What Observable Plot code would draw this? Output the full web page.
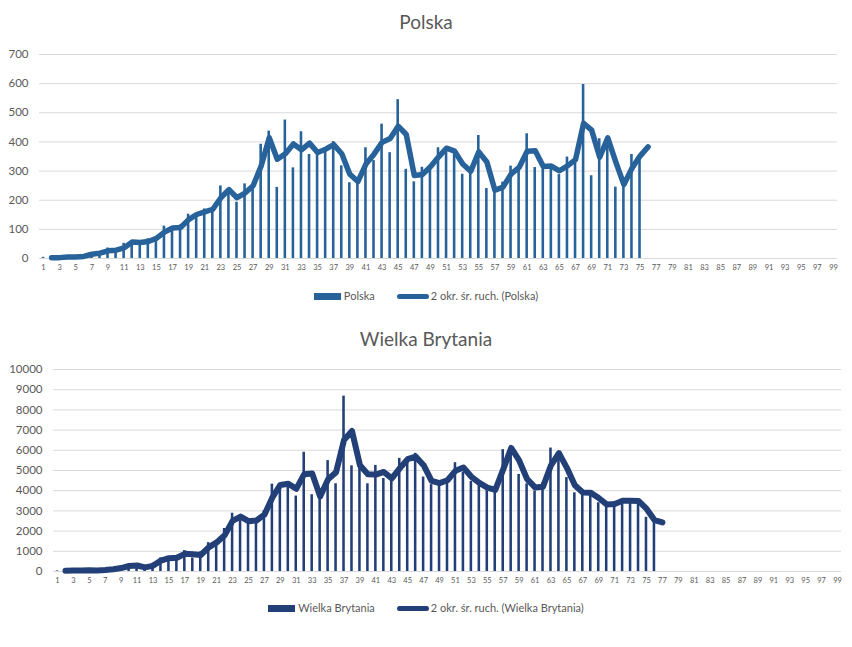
<!DOCTYPE html>
<html>
<head>
<meta charset="utf-8">
<script src="https://cdn.jsdelivr.net/npm/d3@7"></script>
<script src="https://cdn.jsdelivr.net/npm/@observablehq/plot@0.6"></script>
<style>
  body { margin: 0; background: #fff; font-family: Lato, "Open Sans", sans-serif; color: #595959; }
  #page { position: relative; width: 852px; height: 647px; overflow: hidden; }
  .title { position: absolute; left: 0; width: 852px; text-align: center; font-size: 19px; line-height: 23px; }
  .chart { position: absolute; left: 0; }
  .legend { position: absolute; left: 0; width: 852px; display: flex; justify-content: center; align-items: center; font-size: 11px; line-height: 14px; }
  .item { display: flex; align-items: center; margin: 0 11px; }
  .sw-bar { display: inline-block; width: 27px; height: 7px; margin-right: 3px; }
  .sw-line { display: inline-block; width: 32px; height: 5px; border-radius: 3px; margin-right: 2px; }
</style>
</head>
<body>
<div id="page">
  <div class="title" style="top:10px">Polska</div>
  <div class="chart" id="pl-chart" style="top:40px"></div>
  <div class="legend" id="pl-legend" style="top:289px"></div>
  <div class="title" style="top:327px">Wielka Brytania</div>
  <div class="chart" id="uk-chart" style="top:355px"></div>
  <div class="legend" id="uk-legend" style="top:601px"></div>
</div>
<script>
// ---- data ----
const xCategories = d3.range(1, 100);                 // 1..99
const xTickLabels = d3.range(1, 100, 2);              // 1,3,...,99

const plName = "Polska";
const plAvgName = "2 okr. śr. ruch. (Polska)";
const plCases = [
  4, 1, 5, 6, 5, 9, 20, 17, 36, 21,
  52, 61, 49, 68, 70, 111, 98, 115, 152, 150,
  170, 168, 249, 224, 193, 256, 243, 392, 437, 244,
  475, 311, 435, 357, 370, 380, 401, 318, 260, 268,
  380, 336, 461, 363, 545, 306, 263, 313, 316, 380,
  377, 360, 289, 310, 422, 240, 228, 262, 317, 308,
  428, 312, 320, 314, 288, 348, 331, 597, 284, 411,
  417, 245, 262, 357, 346
];
const plNextDayForAvg = [420];   // moving average extends one day past the bars
const plYTicks = [0, 100, 200, 300, 400, 500, 600, 700];

const ukName = "Wielka Brytania";
const ukAvgName = "2 okr. śr. ruch. (Wielka Brytania)";
const ukCases = [
  29, 48, 43, 67, 48, 52, 87, 134, 204, 342,
  251, 152, 407, 676, 643, 714, 1035, 665, 967, 1427,
  1452, 2129, 2885, 2546, 2433, 2619, 3009, 4324, 4244, 4450,
  3735, 5903, 3802, 3634, 5491, 4344, 8681, 5233, 5288, 4342,
  5252, 4603, 4617, 5599, 5526, 5850, 4676, 4301, 4451, 4583,
  5386, 4913, 4463, 4309, 3996, 4076, 6032, 6201, 4806, 4339,
  3985, 4406, 6111, 5614, 4649, 3896, 3923, 3877, 3403, 3242,
  3446, 3560, 3450, 3534, 2684, 2412
];
const ukNextDayForAvg = [2450];
const ukYTicks = [0, 1000, 2000, 3000, 4000, 5000, 6000, 7000, 8000, 9000, 10000];

const plColor = "#27629a";
const ukColor = "#233f78";

function drawPanel(opts) {
  const {target, cases, extra, yTicks, color, marginLeft, marginRight, marginBottom, lineWidth} = opts;
  const bars = cases.map((v, i) => ({n: i + 1, v}));
  const series = cases.concat(extra);
  const avg = d3.range(1, series.length).map(i => ({n: i + 1, v: (series[i - 1] + series[i]) / 2}));
  const half = 0.16;
  const chart = Plot.plot({
    width: 852, height: 240,
    marginTop: 14, marginBottom, marginLeft, marginRight,
    style: {fontFamily: "Lato, 'Open Sans', sans-serif", fontSize: "7.5px", color: "#595959", background: "transparent", overflow: "visible"},
    x: {type: "linear", domain: [d3.min(xCategories) - 0.5, d3.max(xCategories) + 0.5], ticks: xTickLabels, tickFormat: d => String(d), tickSize: 0, tickPadding: 6, label: null},
    y: {domain: [0, d3.max(yTicks)], ticks: yTicks, tickFormat: d => String(d), tickSize: 0, tickPadding: 11, label: null},
    marks: [
      Plot.ruleY(yTicks, {stroke: "#d9d9d9", strokeWidth: 1}),
      Plot.rectY(bars, {x1: d => d.n - half, x2: d => d.n + half, y: "v", fill: color}),
      Plot.line(avg, {x: "n", y: "v", stroke: color, strokeWidth: lineWidth, strokeLinejoin: "round", strokeLinecap: "round"})
    ]
  });
  d3.select(chart).selectAll('[aria-label^="y-axis"] text').attr("font-size", "11.5px");
  document.getElementById(target).appendChild(chart);
}

function drawLegend(target, color, barName, lineName) {
  const el = document.getElementById(target);
  el.innerHTML =
    `<span class="item"><span class="sw-bar" style="background:${color}"></span>${barName}</span>` +
    `<span class="item"><span class="sw-line" style="background:${color}"></span>${lineName}</span>`;
}

drawPanel({target: "pl-chart", cases: plCases, extra: plNextDayForAvg, yTicks: plYTicks, color: plColor, marginLeft: 39, marginRight: 15, marginBottom: 22, lineWidth: 5.5});
drawPanel({target: "uk-chart", cases: ukCases, extra: ukNextDayForAvg, yTicks: ukYTicks, color: ukColor, marginLeft: 53, marginRight: 11, marginBottom: 24, lineWidth: 6});
drawLegend("pl-legend", plColor, plName, plAvgName);
drawLegend("uk-legend", ukColor, ukName, ukAvgName);
</script>
</body>
</html>
